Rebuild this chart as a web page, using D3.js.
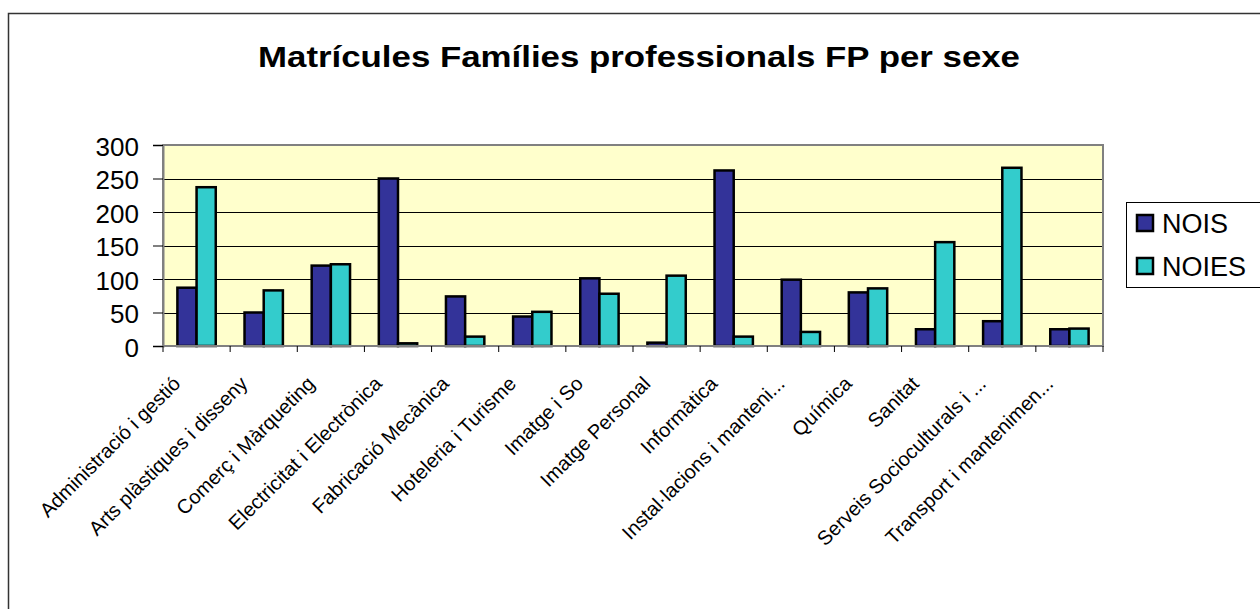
<!DOCTYPE html>
<html>
<head>
<meta charset="utf-8">
<script src="https://cdn.jsdelivr.net/npm/d3@7"></script>
<style>
  body { margin: 0; background: #fff; }
  svg { display: block; font-family: Arial, "Liberation Sans", sans-serif; }
</style>
</head>
<body>
<svg id="chart" width="1260" height="609"></svg>
<script>
const categories = [
    "Administració i gestió", "Arts plàstiques i disseny", "Comerç i Màrqueting",
    "Electricitat i Electrònica", "Fabricació Mecànica", "Hoteleria i Turisme",
    "Imatge i So", "Imatge Personal", "Informàtica", "Instal·lacions i manteni...",
    "Química", "Sanitat", "Serveis Socioculturals i ...", "Transport i mantenimen..."
];
const series = ["NOIS", "NOIES"];
const nois = [87, 50, 120, 250, 74, 44, 101, 5, 262, 99, 80, 25, 37, 25];
const noies = [237, 83, 122, 4, 14, 51, 78, 105, 14, 21, 86, 155, 266, 26];
const yTicks = [0, 50, 100, 150, 200, 250, 300];
const colors = ["#333399", "#33CCCC"];

const svg = d3.select("#chart");
const plot = { left: 163, top: 145, right: 1103, bottom: 346 };

// outer chart border (runs off the right and bottom of the picture)
svg.append("rect")
    .attr("x", 8.5).attr("y", 13.5)
    .attr("width", 1300).attr("height", 700)
    .attr("fill", "none")
    .attr("stroke", "#333").attr("stroke-width", 1.5);

svg.append("text")
    .attr("x", 639).attr("y", 67)
    .attr("text-anchor", "middle")
    .attr("textLength", 762)
    .attr("lengthAdjust", "spacingAndGlyphs")
    .style("font-size", "30px").style("font-weight", "bold")
    .text("Matrícules Famílies professionals FP per sexe");

const x0 = d3.scaleBand()
    .domain(categories)
    .range([plot.left, plot.right]);

const gap = x0.bandwidth() * 1.5 / 3.5;
const x1 = d3.scaleBand()
    .domain(series)
    .range([gap / 2, x0.bandwidth() - gap / 2]);

const y = d3.scaleLinear()
    .domain([0, 300])
    .range([plot.bottom, plot.top]);

// plot background
svg.append("rect")
    .attr("x", plot.left).attr("y", plot.top)
    .attr("width", plot.right - plot.left).attr("height", plot.bottom - plot.top)
    .attr("fill", "#FFFFCC");

// gridlines
svg.append("g")
    .selectAll("line")
    .data(yTicks.filter(d => d > 0 && d < 300))
    .join("line")
    .attr("x1", plot.left).attr("x2", plot.right)
    .attr("y1", d => Math.round(y(d)) + 0.5).attr("y2", d => Math.round(y(d)) + 0.5)
    .attr("stroke", "#000").attr("stroke-width", 1);

// plot border
svg.append("rect")
    .attr("x", plot.left).attr("y", plot.top)
    .attr("width", plot.right - plot.left).attr("height", plot.bottom - plot.top)
    .attr("fill", "none")
    .attr("stroke", "#808080").attr("stroke-width", 2);

// bars
const rows = categories.map((c, i) => ({ cat: c, values: [nois[i], noies[i]] }));
svg.append("g")
    .selectAll("g")
    .data(rows)
    .join("g")
    .attr("transform", d => `translate(${x0(d.cat)},0)`)
    .selectAll("rect")
    .data(d => d.values.map((v, j) => ({ key: series[j], value: v, color: colors[j] })))
    .join("rect")
    .attr("x", d => x1(d.key))
    .attr("y", d => y(d.value))
    .attr("width", x1.bandwidth())
    .attr("height", d => y(0) - y(d.value))
    .attr("fill", d => d.color)
    .attr("stroke", "#000").attr("stroke-width", 2.5);

// y axis
const yAxis = svg.append("g")
    .attr("transform", `translate(${plot.left},0)`)
    .call(d3.axisLeft(y).tickValues(yTicks).tickSize(10).tickPadding(14));
yAxis.select(".domain").attr("stroke", "#808080").attr("stroke-width", 2);
yAxis.selectAll(".tick line").attr("stroke", "#000");
yAxis.selectAll(".tick text")
    .attr("fill", "#000")
    .attr("dy", "0.4em")
    .style("font-size", "26px")
    .style("font-family", "Arial, 'Liberation Sans', sans-serif");

// x axis: ticks between categories
const xAxis = svg.append("g");
xAxis.append("line")
    .attr("x1", plot.left).attr("x2", plot.right)
    .attr("y1", plot.bottom).attr("y2", plot.bottom)
    .attr("stroke", "#808080").attr("stroke-width", 2);
xAxis.selectAll("line.tick")
    .data(categories.map(c => x0(c)).concat([plot.right]))
    .join("line")
    .attr("class", "tick")
    .attr("x1", d => d).attr("x2", d => d)
    .attr("y1", plot.bottom).attr("y2", plot.bottom + 6)
    .attr("stroke", "#000");

xAxis.selectAll("text")
    .data(categories)
    .join("text")
    .attr("transform", d => `translate(${x0(d) + x0.bandwidth() / 2 - 15},${plot.bottom + 39}) rotate(-45)`)
    .attr("text-anchor", "end")
    .style("font-size", "20px")
    .text(d => d);

// legend
const legend = svg.append("g");
legend.append("rect")
    .attr("x", 1126.5).attr("y", 202.5)
    .attr("width", 200).attr("height", 85)
    .attr("fill", "#fff").attr("stroke", "#000");
legend.selectAll("g")
    .data(series)
    .join("g")
    .attr("transform", (d, i) => `translate(1137,${215 + i * 43})`)
    .call(g => g.append("rect")
        .attr("width", 16).attr("height", 16)
        .attr("fill", (d, i) => colors[i])
        .attr("stroke", "#000").attr("stroke-width", 2.5))
    .call(g => g.append("text")
        .attr("x", 25).attr("y", 18)
        .style("font-size", "27px")
        .text(d => d));
</script>
</body>
</html>
